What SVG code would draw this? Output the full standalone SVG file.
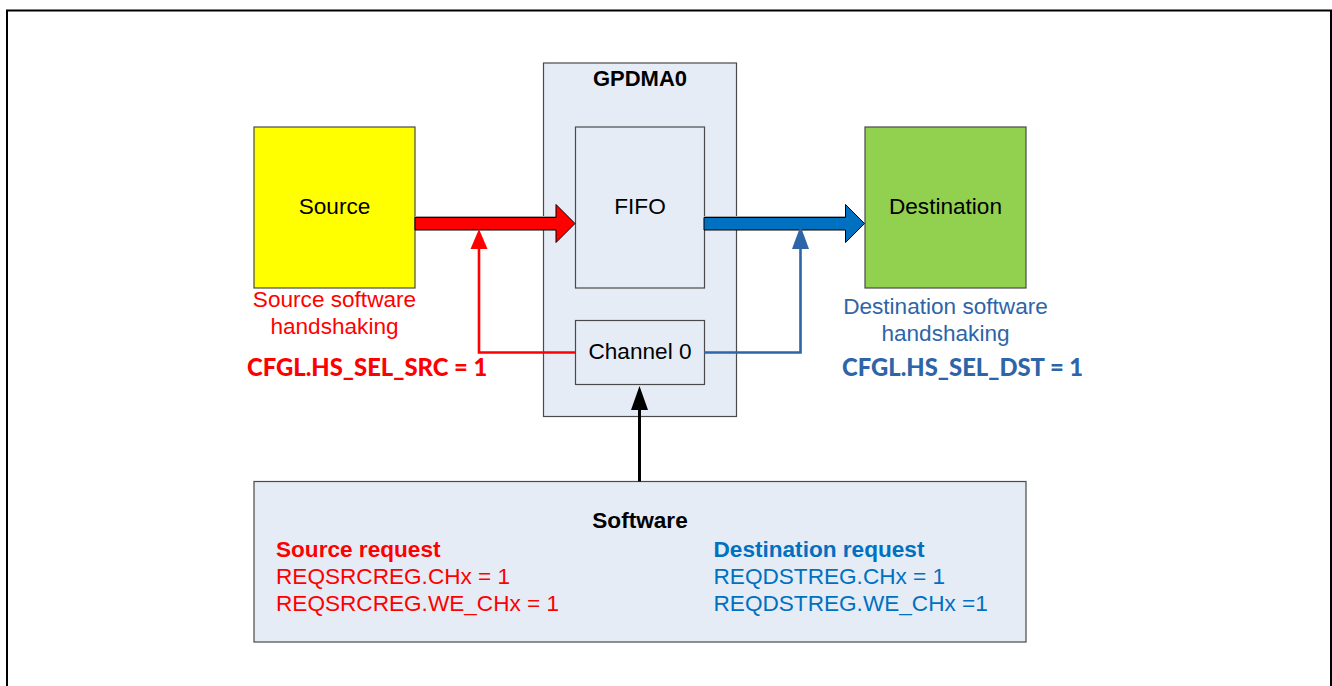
<svg xmlns="http://www.w3.org/2000/svg" width="1332" height="686" viewBox="0 0 1332 686">
<style>
text{font-family:"Liberation Sans",Arial,sans-serif;font-size:22.6px;fill:#000}
.m{text-anchor:middle}
.b{font-weight:bold}
.red{fill:#ff0000}
.blue{fill:#2e64a8}
.lblue{fill:#0070c0}
.cfg{font-family:Lato,"Open Sans",sans-serif;font-weight:900;font-size:23.8px}
.box{stroke:#4a4a4a;stroke-width:1.2}
.pale{fill:#e6ecf6}
.shadow{fill:#a6a6a6}
.thin{fill:none;stroke-width:2.6}
</style>
<path d="M7 686V10.500H1331V686" fill="none" stroke="#000" stroke-width="2"/>
<g id="gpdma0">
<rect class="box pale" x="543.500" y="63" width="193" height="353.500"/>
<text class="m b" x="640" y="86" style="font-size:22px">GPDMA0</text>
</g>
<g id="source">
<rect class="box" x="254" y="127" width="161" height="161" fill="#ffff00"/>
<text class="m" x="334.500" y="214">Source</text>
<text class="m red" x="334.500" y="306.500">Source software</text>
<text class="m red" x="334.500" y="333.500">handshaking</text>
<text class="cfg red" x="247" y="376">CFGL.HS_SEL_SRC = 1</text>
</g>
<g id="fifo">
<rect class="box pale" x="575.500" y="127" width="129" height="161"/>
<text class="m" x="640" y="214">FIFO</text>
</g>
<g id="destination">
<rect class="box" x="865" y="127" width="161" height="161" fill="#92d050"/>
<text class="m" x="945.500" y="214">Destination</text>
<text class="m blue" x="945.500" y="313.500">Destination software</text>
<text class="m blue" x="945.500" y="340.500">handshaking</text>
<text class="cfg blue" x="842" y="376">CFGL.HS_SEL_DST = 1</text>
</g>
<g id="channel0">
<rect class="box pale" x="575.500" y="320.500" width="129" height="64"/>
<text class="m" x="640" y="359">Channel 0</text>
</g>
<g id="software">
<rect class="box pale" x="254" y="481.500" width="772" height="160.500"/>
<text class="m b" x="640" y="528">Software</text>
<text class="b red" x="276" y="557">Source request</text>
<text class="red" x="276" y="584">REQSRCREG.CHx = 1</text>
<text class="red" x="276" y="611">REQSRCREG.WE_CHx = 1</text>
<text class="b lblue" x="713.500" y="557">Destination request</text>
<text class="lblue" x="713.500" y="584">REQDSTREG.CHx = 1</text>
<text class="lblue" x="713.500" y="611">REQDSTREG.WE_CHx =1</text>
</g>
<g id="connectors">
<path class="shadow" d="M415 216H556V218H415Z"/>
<path d="M415 217.500H556V204.500L575 223.500L556 242.500V230H415Z" fill="#ff0000" stroke="#000" stroke-width="1"/>
<path class="shadow" d="M704 216H845V218H704Z"/>
<path d="M704 217.500H845.500V204.500L864.500 223.500L845.500 242.500V230H704Z" fill="#0070c0" stroke="#000" stroke-width="1"/>
<path class="thin" d="M576 352.500H479V245" stroke="#ff0000"/>
<path d="M479 229L487.500 249H470.500Z" fill="#ff0000"/>
<path class="thin" d="M704 352.500H800.500V245" stroke="#2e64a8"/>
<path d="M800.500 226L809 249H792Z" fill="#2e64a8"/>
<path d="M639.500 481.500V405" fill="none" stroke="#000" stroke-width="3"/>
<path d="M639.500 386L648 410H631Z" fill="#000"/>
</g>
</svg>
